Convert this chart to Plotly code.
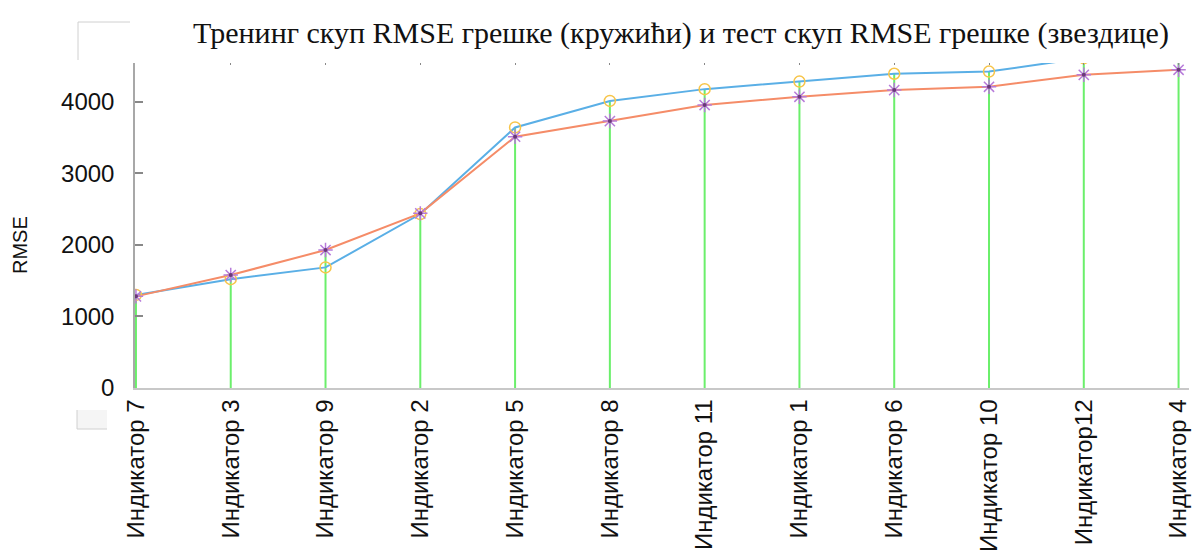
import plotly.graph_objects as go

categories = ["Индикатор 7", "Индикатор 3", "Индикатор 9", "Индикатор 2", "Индикатор 5",
              "Индикатор 8", "Индикатор 11", "Индикатор 1", "Индикатор 6", "Индикатор 10",
              "Индикатор12", "Индикатор 4"]
train_rmse = [1300, 1520, 1685, 2430, 3640, 4010, 4175, 4280, 4390, 4420, 4610, 4700]
test_rmse = [1280, 1578, 1927, 2440, 3510, 3729, 3953, 4068, 4162, 4208, 4375, 4445]
y_ticks = [0, 1000, 2000, 3000, 4000]

W, H = 1195, 553
L, R, T, B = 135, 1189, 63, 388

def px(x):
    return (x - L) / (R - L)

def py(y):
    return (B - y) / (B - T)

xs = list(range(len(categories)))

stem_x, stem_y = [], []
for i, (a, b) in enumerate(zip(train_rmse, test_rmse)):
    stem_x += [i, i, None]
    stem_y += [0, max(a, b), None]

fig = go.Figure()
fig.add_trace(go.Scatter(x=stem_x, y=stem_y, mode="lines",
                         line=dict(color="#6BEF6B", width=2), hoverinfo="skip",
                         showlegend=False))
fig.add_trace(go.Scatter(x=xs, y=train_rmse, mode="lines",
                         line=dict(color="#5AAFE6", width=2), showlegend=False))
fig.add_trace(go.Scatter(x=xs, y=test_rmse, mode="lines",
                         line=dict(color="#F58C68", width=2), showlegend=False))
fig.add_trace(go.Scatter(x=xs, y=train_rmse, mode="markers",
                         marker=dict(symbol="circle-open", size=11, color="#F7C54A",
                                     line=dict(width=1.5)),
                         showlegend=False, cliponaxis=True))
fig.add_trace(go.Scatter(x=xs, y=test_rmse, mode="markers",
                         marker=dict(symbol="asterisk-open", size=12, color="#B77BDA",
                                     line=dict(width=1.5)),
                         showlegend=False, cliponaxis=True))
fig.add_trace(go.Scatter(x=xs, y=test_rmse, mode="markers",
                         marker=dict(symbol="circle", size=4, color="#6A3A78"),
                         showlegend=False, cliponaxis=True))
# invisible trace for top tick axis
fig.add_trace(go.Scatter(x=xs, y=test_rmse, xaxis="x2", mode="markers",
                         marker=dict(opacity=0), hoverinfo="skip", showlegend=False))

xr = [-0.01, 11.11]
yr = [0, 4540]

fig.update_layout(
    width=W, height=H,
    margin=dict(l=L, r=W - R, t=T, b=H - B, pad=0, autoexpand=False),
    paper_bgcolor="white", plot_bgcolor="white",
    title=dict(text="Тренинг скуп RMSE грешке (кружићи) и тест скуп RMSE грешке (звездице)",
               font=dict(family="Liberation Serif", size=30, color="#111"),
               x=681 / W, xref="container", xanchor="center",
               y=1 - 32 / H, yref="container", yanchor="middle"),
    xaxis=dict(range=xr, tickmode="array", tickvals=xs, ticktext=categories,
               tickangle=-90, showgrid=False, zeroline=False, automargin=False,
               showline=True, linecolor="#C8C8C8", linewidth=1.5,
               ticks="", tickfont=dict(family="Liberation Sans", size=24, color="#111")),
    xaxis2=dict(range=xr, overlaying="x", side="top", tickmode="array", tickvals=xs,
                ticks="inside", ticklen=2, tickcolor="#888", showticklabels=False,
                showgrid=False, zeroline=False, showline=False, automargin=False),
    yaxis=dict(range=yr, tickmode="array", tickvals=y_ticks,
               ticks="inside", ticklen=8, tickcolor="#888", tickwidth=1.5,
               showgrid=False, zeroline=False, automargin=False,
               showline=True, linecolor="#A8A8A8", linewidth=1.5,
               ticklabelstandoff=14,
               tickfont=dict(family="Liberation Sans", size=24, color="#111")),
    yaxis2=dict(range=yr, overlaying="y", side="right", tickmode="array", tickvals=y_ticks,
                ticks="inside", ticklen=10, tickcolor="#777", tickwidth=2, automargin=False,
                showticklabels=False, showgrid=False, zeroline=False,
                showline=True, linecolor="#C8C8C8", linewidth=3),
    annotations=[
        dict(text="RMSE", xref="paper", yref="paper", x=px(20), y=py(245),
             xanchor="center", yanchor="middle", textangle=-90, showarrow=False,
             font=dict(family="Liberation Sans", size=20, color="#111")),
    ],
    shapes=[
        dict(type="line", xref="paper", yref="paper", x0=px(78), x1=px(78), y0=py(22), y1=py(60),
             line=dict(color="#D0D0D0", width=1)),
        dict(type="line", xref="paper", yref="paper", x0=px(78), x1=px(130), y0=py(22), y1=py(22),
             line=dict(color="#D0D0D0", width=1)),
        dict(type="rect", xref="paper", yref="paper", x0=px(77), x1=px(107), y0=py(410), y1=py(429),
             fillcolor="#F5F5F5", line=dict(width=0)),
        dict(type="line", xref="paper", yref="paper", x0=px(77), x1=px(77), y0=py(410), y1=py(429),
             line=dict(color="#D0D0D0", width=1)),
        dict(type="line", xref="paper", yref="paper", x0=px(77), x1=px(107), y0=py(429), y1=py(429),
             line=dict(color="#D0D0D0", width=1)),
    ],
)

fig.write_html("out.html")
